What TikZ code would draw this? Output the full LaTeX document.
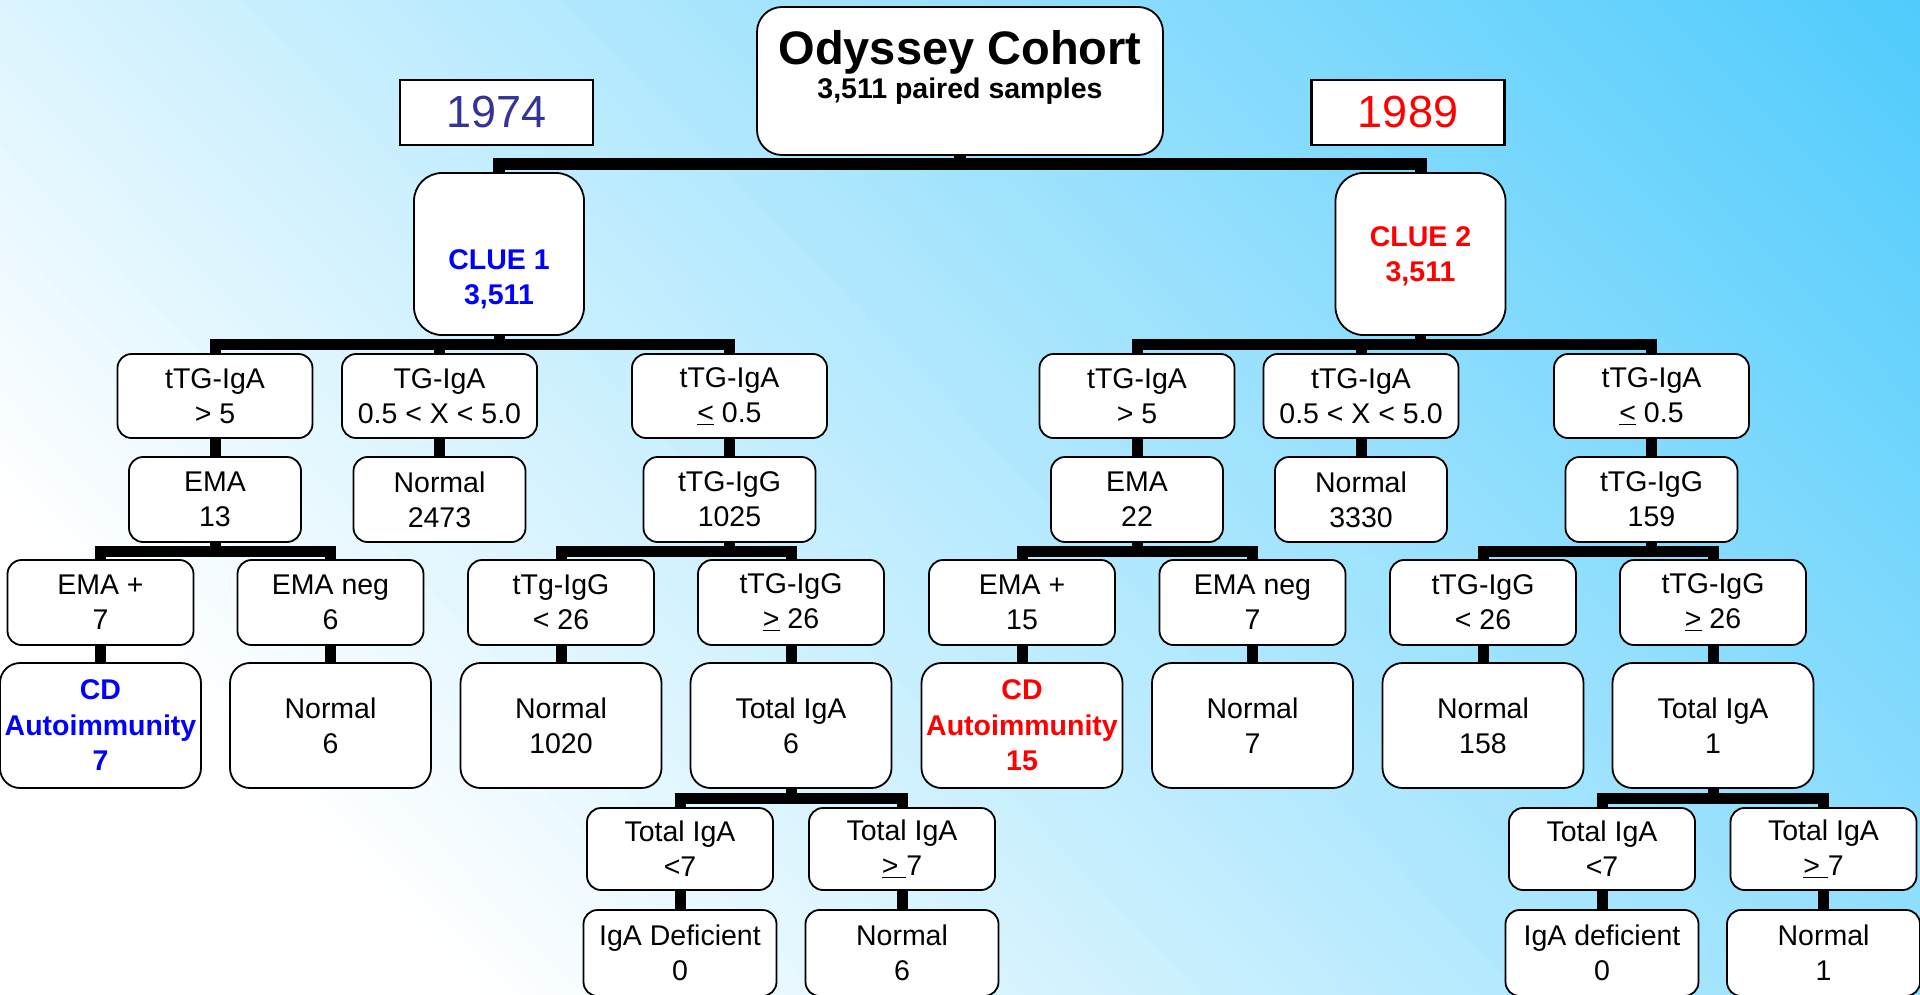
\documentclass[tikz,border=0pt]{standalone}
\usepackage{fontspec}
\setmainfont{Liberation Sans}
\usetikzlibrary{calc}
\definecolor{bgblue}{HTML}{4FCBFC}
\definecolor{yrblue}{HTML}{333399}
\definecolor{cblue}{HTML}{0000FF}
\definecolor{cred}{HTML}{FF0000}
\newcommand{\busconn}[2]{\draw[conn] (#1.south) -- ($(#1.south)!0.5!(#1.south |- #2.north)$) -| (#2.north);}
\newcommand{\vconn}[2]{\draw[conn] (#1.south) -- (#2.north);}
\tikzset{
  box/.style={draw=black, line width=1.8pt, fill=white, inner sep=0pt, align=center, font=\fontsize{28.5}{35}\selectfont},
  boxA/.style={box, rounded corners=14pt, minimum width=195pt, minimum height=84pt},
  boxB/.style={box, rounded corners=14pt, minimum width=172pt, minimum height=85pt},
  boxC/.style={box, rounded corners=14pt, minimum width=186pt, minimum height=85pt},
  boxD/.style={box, rounded corners=20pt, minimum width=201pt, minimum height=125pt},
  boxE/.style={box, rounded corners=14pt, minimum width=186pt, minimum height=82pt},
  boxF/.style={box, rounded corners=14pt, minimum width=193pt, minimum height=86pt},
  cluebox/.style={box, rounded corners=28pt, minimum width=170pt, minimum height=162pt},
  yearbox/.style={draw=black, line width=2.5pt, fill=white, minimum width=193pt, minimum height=65pt, inner sep=0pt, font=\fontsize{45}{50}\selectfont},
  conn/.style={line width=11pt, line join=miter, black},
  boldtxt/.style={font=\bfseries\fontsize{28.5}{35}\selectfont, align=center, inner sep=0pt}
}
\begin{document}
\begin{tikzpicture}[x=1pt,y=-1pt]
\useasboundingbox (0,0) rectangle (1920,994);
\clip (0,0) rectangle (1920,994);
% background: linear gradient, white at lower left to sky blue at upper right
\begin{scope}[shift={(0,497)}, rotate=44]
  \fill[white] (-3000,-3000) rectangle (1,3000);
  \foreach \i in {0,...,119} {
    \pgfmathsetmacro\pc{(\i+0.5)/1.2}
    \fill[bgblue!\pc!white] (\i*14.4,-3000) rectangle (\i*14.4+16,3000);
  }
  \fill[bgblue] (1727,-3000) rectangle (4000,3000);
\end{scope}

% root
\node[box, rounded corners=25pt, minimum width=406pt, minimum height=148pt] (ody) at (960,81) {};
\node[anchor=base, font=\bfseries\fontsize{47}{50}\selectfont, inner sep=0pt] (odyt) at (960,64) {Odyssey Cohort};
\node[anchor=base, boldtxt] (odys) at (960,98) {3,511 paired samples};

\node[yearbox, text=yrblue] (y74) at (496.5,112.5) {1974};
\node[yearbox, text=cred] (y89) at (1408,112.5) {1989};

\node[cluebox] (clue1) at (499,254) {};
\node[boldtxt, text=cblue] (clue1t) at (499,279.5) {CLUE 1\\3,511};
\node[cluebox] (clue2) at (1420.5,254) {};
\node[boldtxt, text=cred] (clue2t) at (1420.5,256.5) {CLUE 2\\3,511};

% level A
\node[boxA] (a1) at (215,396) {tTG-IgA\\> 5};
\node[boxA] (a2) at (439.5,396) {TG-IgA\\0.5 < X < 5.0};
\node[boxA] (a3) at (729.5,396) {tTG-IgA\\\underline{<} 0.5};
\node[boxA] (a4) at (1137,396) {tTG-IgA\\> 5};
\node[boxA] (a5) at (1361,396) {tTG-IgA\\0.5 < X < 5.0};
\node[boxA] (a6) at (1651.5,396) {tTG-IgA\\\underline{<} 0.5};

% level B
\node[boxB] (b1) at (215,499.5) {EMA\\13};
\node[boxB] (b2) at (439.5,499.5) {Normal\\2473};
\node[boxB] (b3) at (729.5,499.5) {tTG-IgG\\1025};
\node[boxB] (b4) at (1137,499.5) {EMA\\22};
\node[boxB] (b5) at (1361,499.5) {Normal\\3330};
\node[boxB] (b6) at (1651.5,499.5) {tTG-IgG\\159};

% level C
\node[boxC] (c1) at (100.5,602.5) {EMA +\\7};
\node[boxC] (c2) at (330.5,602.5) {EMA neg\\6};
\node[boxC] (c3) at (561,602.5) {tTg-IgG\\< 26};
\node[boxC] (c4) at (791,602.5) {tTG-IgG\\\underline{>} 26};
\node[boxC] (c5) at (1022,602.5) {EMA +\\15};
\node[boxC] (c6) at (1252.5,602.5) {EMA neg\\7};
\node[boxC] (c7) at (1483,602.5) {tTG-IgG\\< 26};
\node[boxC] (c8) at (1713,602.5) {tTG-IgG\\\underline{>} 26};

% level D
\node[boxD, text=cblue, font=\bfseries\fontsize{28.5}{35.5}\selectfont] (d1) at (100.5,725.5) {CD\\Autoimmunity\\7};
\node[boxD] (d2) at (330.5,725.5) {Normal\\6};
\node[boxD] (d3) at (561,725.5) {Normal\\1020};
\node[boxD] (d4) at (791,725.5) {Total IgA\\6};
\node[boxD, text=cred, font=\bfseries\fontsize{28.5}{35.5}\selectfont] (d5) at (1022,725.5) {CD\\Autoimmunity\\15};
\node[boxD] (d6) at (1252.5,725.5) {Normal\\7};
\node[boxD] (d7) at (1483,725.5) {Normal\\158};
\node[boxD] (d8) at (1713,725.5) {Total IgA\\1};

% level E
\node[boxE] (e1) at (680,849) {Total IgA\\<7};
\node[boxE] (e2) at (902,849) {Total IgA\\\underline{> }7};
\node[boxE] (e3) at (1602,849) {Total IgA\\<7};
\node[boxE] (e4) at (1823.5,849) {Total IgA\\\underline{> }7};

% level F
\node[boxF] (f1) at (680,953) {IgA Deficient\\0};
\node[boxF] (f2) at (902,953) {Normal\\6};
\node[boxF] (f3) at (1602,953) {IgA deficient\\0};
\node[boxF] (f4) at (1823.5,953) {Normal\\1};

% connectors
\draw[conn, line width=12pt] (ody.south) -- ($(ody.south)!0.5!(ody.south |- clue1.north)$) -| (clue1.north);
\draw[conn, line width=12pt] (ody.south) -- ($(ody.south)!0.5!(ody.south |- clue2.north)$) -| (clue2.north);
\busconn{clue1}{a1}\busconn{clue1}{a2}\busconn{clue1}{a3}
\busconn{clue2}{a4}\busconn{clue2}{a5}\busconn{clue2}{a6}
\vconn{a1}{b1}\vconn{a2}{b2}\vconn{a3}{b3}
\vconn{a4}{b4}\vconn{a5}{b5}\vconn{a6}{b6}
\busconn{b1}{c1}\busconn{b1}{c2}\busconn{b3}{c3}\busconn{b3}{c4}
\busconn{b4}{c5}\busconn{b4}{c6}\busconn{b6}{c7}\busconn{b6}{c8}
\vconn{c1}{d1}\vconn{c2}{d2}\vconn{c3}{d3}\vconn{c4}{d4}
\vconn{c5}{d5}\vconn{c6}{d6}\vconn{c7}{d7}\vconn{c8}{d8}
\busconn{d4}{e1}\busconn{d4}{e2}\busconn{d8}{e3}\busconn{d8}{e4}
\vconn{e1}{f1}\vconn{e2}{f2}\vconn{e3}{f3}\vconn{e4}{f4}
\end{tikzpicture}
\end{document}
